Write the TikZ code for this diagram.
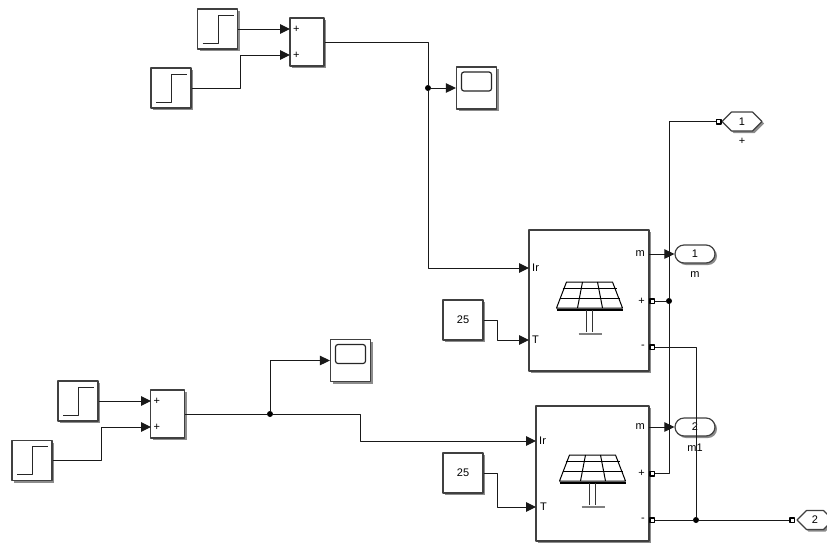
\documentclass[tikz,border=0pt]{standalone}
\usepackage{fontspec}
\setmainfont{Liberation Sans}
\usetikzlibrary{positioning,shadows,arrows.meta,shapes.misc,shapes.symbols}
\tikzset{
  block/.style={draw=black!75,fill=white,line width=1.2,rectangle,inner sep=0,
    drop shadow={shadow xshift=2pt,shadow yshift=-2pt,fill=black,opacity=0.45}},
  sig/.style={line width=1,black!90},
  arr/.style={sig,-{Triangle[length=10pt,width=9.5pt]}},
  dot/.style={circle,fill=black,inner sep=0,minimum size=6pt},
  portsq/.style={rectangle,draw=black,line width=1.5,fill=white,inner sep=0,minimum size=4.5pt},
  lbl/.style={inner sep=0,font=\fontsize{11}{12}\selectfont},
  outblk/.style={block,rounded rectangle,minimum width=40pt,minimum height=18pt,font=\fontsize{11}{12}\selectfont},
  gotoblk/.style={block,signal,signal to=west and east,signal pointer angle=90,
    minimum height=19pt,font=\fontsize{11}{12}\selectfont},
  pics/solar/.style={code={
    \draw[line width=1] (-23,-13) -- (23,-13) -- (33,13) -- (-33,13) -- cycle;
    \draw[line width=1] (-27,-6.5) -- (27,-6.5) (-30,3) -- (30,3);
    \draw[line width=1] (-7,-13) -- (-12,13) (8,-13) -- (13,13);
    \draw[line width=1.2] (-33,15) -- (33,15);
    \draw[line width=1,black!80] (-3,15) -- (-3,37) (3,15) -- (3,37);
    \draw[line width=2.2,black!50] (-11,39) -- (12,39);
  }}
}
\begin{document}
\begin{tikzpicture}[x=1pt,y=-1pt,line join=round]
  \useasboundingbox (0,0) rectangle (827,542);
  \foreach \n/\x/\y in {stepa/217.5/29,stepb/171/88,stepc/78/401,stepd/32/460.5}
  {
    \node[block,minimum width=40pt,minimum height=40pt] (\n) at (\x,\y) {};
    \draw[line width=1,black!85,shift={(\x,\y)}] (-15,14) -- (0.5,14) -- (0.5,-14) -- (16,-14);
  }
  \node[block,minimum width=34pt,minimum height=48pt] (suma) at (307,42) {};
  \node[block,minimum width=34pt,minimum height=48pt] (sumb) at (167.5,414) {};
  \foreach \n/\x/\y in {scopea/476.5/88,scopeb/350.5/360.5}
  {
    \node[block,minimum width=40pt,minimum height=42pt] (\n) at (\x,\y) {};
    \draw[line width=1.2,black!85,rounded corners=2.5pt,shift={(\x,\y)}] (-15,-16) rectangle (15,3);
  }
  \foreach \n/\y in {suma/29,suma/55,sumb/401,sumb/427}
  {\path (\n.west |- 0,\y) node[lbl,xshift=7pt] {+};}

  \node[block,minimum width=120pt,minimum height=141pt] (panela) at (589,300.5) {};
  \node[block,minimum width=113pt,minimum height=135pt] (panelb) at (592.5,473.5) {};
  \pic at (589.5,295) {solar};
  \pic at (592.5,468) {solar};

  \node[lbl,anchor=west] (ira) at (532,268) {Ir};
  \node[lbl,anchor=west] (ta) at (532,340) {T};
  \node[lbl,anchor=east] (ma) at (645,254) {m};
  \node[lbl,anchor=east] (pa) at (645,301) {+};
  \node[lbl,anchor=east] (na) at (645,347) {-};
  \node[lbl,anchor=west] (irb) at (539,441) {Ir};
  \node[lbl,anchor=west] (tb) at (540,507) {T};
  \node[lbl,anchor=east] (mb) at (645,427) {m};
  \node[lbl,anchor=east] (pb) at (645,473) {+};
  \node[lbl,anchor=east] (nb) at (645,520) {-};

  \node[block,lbl,inner sep=0,minimum width=40pt,minimum height=40pt] (consta) at (463,320) {25};
  \node[block,lbl,inner sep=0,minimum width=40pt,minimum height=40pt] (constb) at (463,473) {25};

  \node[outblk] (outa) at (695,254) {1};
  \node[outblk] (outb) at (695,427) {2};
  \node[lbl,below=8pt of outa] (labela) {m};
  \node[lbl,below=7pt of outb] (labelb) {m1};
  \node[gotoblk,minimum width=40pt] (gotoa) at (742,121.5) {1};
  \node[gotoblk,minimum width=36pt] (gotob) at (815,520) {2};
  \node[lbl,below=6pt of gotoa] (labelc) {+};

  \node[portsq] (sqa) at (652,301) {};
  \node[portsq] (sqb) at (652,347) {};
  \node[portsq] (sqc) at (652,473.5) {};
  \node[portsq] (sqd) at (652,520) {};
  \node[portsq] (sqe) at (718.5,121.5) {};
  \node[portsq] (sqf) at (792,520) {};

  \node[dot] (joina) at (428,88) {};
  \node[dot] (joinb) at (270,414) {};
  \node[dot] (joinc) at (669,301) {};
  \node[dot] (joind) at (696,520) {};

  \coordinate (ina) at (290,29);
  \coordinate (inb) at (290,55);
  \coordinate (inc) at (151,401);
  \coordinate (ind) at (151,427);
  \coordinate (ainr) at (529,268);
  \coordinate (aint) at (529,340);
  \coordinate (binr) at (536,441);
  \coordinate (bint) at (536,507);
  \coordinate (aoutm) at (649,254);
  \coordinate (boutm) at (649,427);

  \draw[arr] (stepa.east) -- (ina);
  \draw[arr] (stepb.east) -- (240,88) -- (240,55) -- (inb);
  \draw[arr] (stepc.east) -- (inc);
  \draw[arr] (stepd.east) -- (101,460.5) -- (101,427) -- (ind);
  \draw[sig] (suma.east) -- (428,42) -- (joina);
  \draw[arr] (joina) -- (scopea.west);
  \draw[arr] (joina) -- (428,268) -- (ainr);
  \draw[sig] (sumb.east) -- (joinb);
  \draw[arr] (joinb) -- (270,360.5) -- (scopeb.west);
  \draw[arr] (joinb) -- (360,414) -- (360,441) -- (binr);
  \draw[arr] (consta.east) -- (497,320) -- (497,340) -- (aint);
  \draw[arr] (constb.east) -- (497,473) -- (497,507) -- (bint);
  \draw[arr] (aoutm) -- (outa.west);
  \draw[arr] (boutm) -- (outb.west);
  \draw[sig] (sqa) -- (joinc);
  \draw[sig] (sqe) -- (669,121.5) -- (joinc);
  \draw[sig] (joinc) -- (669,473.5) -- (sqc);
  \draw[sig] (sqb) -- (696,347) -- (joind);
  \draw[sig] (sqd) -- (joind);
  \draw[sig] (joind) -- (sqf);
\end{tikzpicture}
\end{document}
